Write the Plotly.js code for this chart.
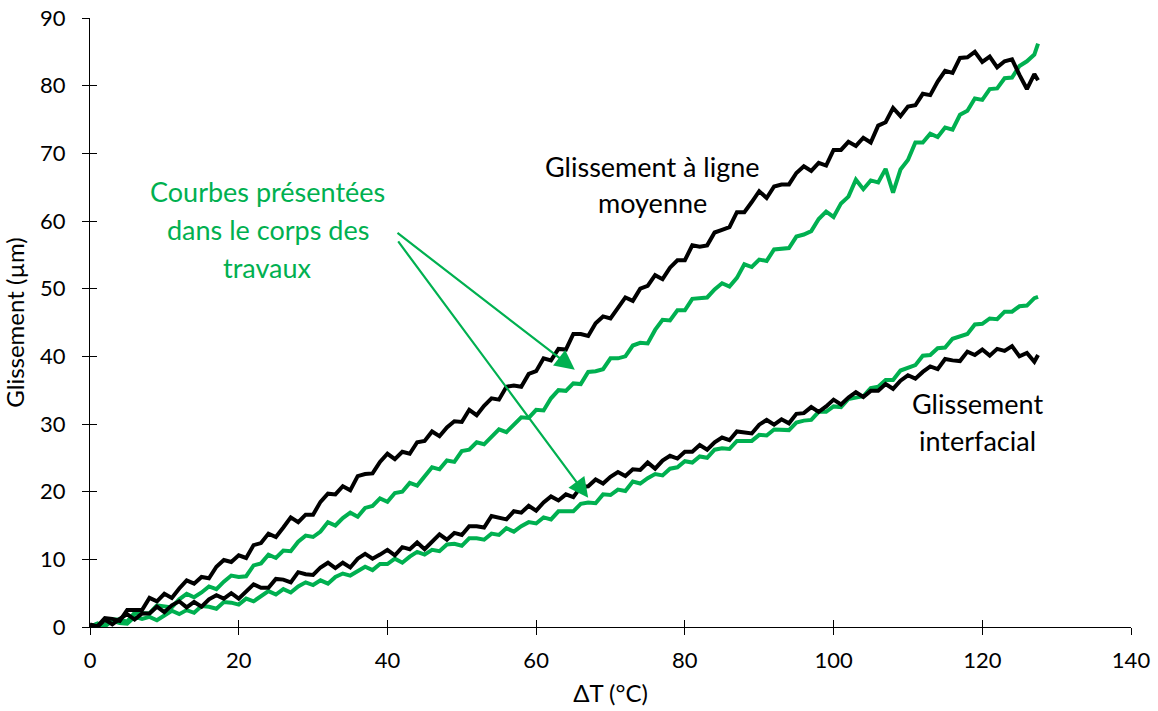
<!DOCTYPE html>
<html>
<head>
<meta charset="utf-8">
<script src="https://cdn.plot.ly/plotly-3.0.1.min.js"></script>
<style>html,body{margin:0;padding:0;background:#fff;}#chart{width:1158px;height:711px;}</style>
</head>
<body>
<div id="chart"></div>
<script>
// ΔT (°C) sample positions
const dT = [0,1,2,3,4,5,6,7,8,9,10,11,12,13,14,15,16,17,18,19,20,21,22,23,24,25,26,27,28,29,30,31,32,33,34,35,36,37,38,39,40,41,42,43,44,45,46,47,48,49,50,51,52,53,54,55,56,57,58,59,60,61,62,63,64,65,66,67,68,69,70,71,72,73,74,75,76,77,78,79,80,81,82,83,84,85,86,87,88,89,90,91,92,93,94,95,96,97,98,99,100,101,102,103,104,105,106,107,108,109,110,111,112,113,114,115,116,117,118,119,120,121,122,123,124,125,126,127,127.5];

// Glissement à ligne moyenne (black, upper)
const ligneMoyenneNoir = [0.3,0.1,1.3,1.2,0.9,2.5,2.5,2.5,4.3,3.8,
4.9,4.3,5.7,6.9,6.4,7.4,7.2,8.9,9.9,9.6,
10.6,10.2,12.1,12.4,13.8,13.3,14.7,16.2,15.5,16.6,
16.6,18.5,19.7,19.6,20.8,20.2,22.3,22.6,22.7,24.4,
25.6,24.8,25.9,25.6,27.3,27.5,28.9,28.2,29.5,30.4,
30.3,32.1,31.3,32.7,33.8,33.6,35.5,35.7,35.5,37.4,
37.8,39.7,39.4,41.1,41.0,43.3,43.3,43.0,44.9,45.9,
45.6,47.1,48.7,48.2,50.0,50.4,52.0,51.4,53.1,54.2,
54.2,56.4,56.2,56.4,58.3,58.7,59.1,61.3,61.3,62.8,
64.4,63.4,65.1,65.4,65.4,67.1,68.1,67.4,68.6,68.2,
70.5,70.5,71.7,71.1,72.3,71.6,74.1,74.6,76.7,75.5,
76.9,77.1,78.8,78.6,80.6,82.2,81.9,84.1,84.2,85.0,
83.5,84.3,82.7,83.6,83.9,81.6,79.5,81.7,80.8];

// Glissement à ligne moyenne (green, upper - curves shown in main text)
const ligneMoyenneVert = [0.0,0.5,0.3,1.1,1.1,0.8,2.1,2.1,2.0,3.2,
3.0,2.9,4.1,4.9,4.4,5.1,6.0,5.6,6.7,7.6,
7.4,7.5,9.1,9.4,10.7,10.2,11.3,11.2,12.6,13.5,
13.3,14.1,15.5,15.0,16.1,16.9,16.3,17.6,17.9,19.0,
18.5,19.8,20.0,21.3,20.9,22.2,23.6,23.3,24.6,24.4,
26.0,26.2,27.3,27.0,28.1,29.2,28.8,29.9,31.0,30.9,
32.1,32.0,33.8,35.0,34.9,36.0,35.9,37.7,37.8,38.1,
39.7,39.7,40.0,41.6,42.0,41.9,43.9,45.4,45.3,46.8,
46.8,48.5,48.6,48.7,49.9,50.8,50.3,51.6,53.6,53.2,
54.3,54.1,55.8,55.9,56.0,57.7,58.0,58.5,60.3,61.4,
60.6,62.6,63.6,66.1,64.7,66.0,65.7,67.7,64.2,67.6,
69.0,71.6,71.6,72.9,72.4,73.8,73.5,75.7,76.3,78.1,
77.9,79.5,79.6,81.1,81.2,82.9,83.6,84.6,86.2];

// Glissement interfacial (black, lower)
const interfacialNoir = [0.4,0.0,1.1,0.4,1.2,1.9,1.1,2.0,2.0,3.0,
2.2,3.2,3.8,2.9,3.7,3.0,4.1,4.7,4.2,5.0,
4.2,5.3,6.3,5.8,5.8,7.1,7.0,6.6,8.1,7.8,
7.7,8.8,9.5,8.7,9.5,8.8,10.1,10.8,10.1,10.7,
11.4,10.6,11.8,11.5,12.5,11.5,12.7,13.7,12.9,13.9,
13.6,14.9,14.9,14.7,16.4,16.2,15.9,17.1,16.9,17.9,
17.2,18.4,19.3,18.7,19.6,19.2,20.7,20.8,21.8,21.2,
22.2,22.9,22.3,23.3,23.2,24.3,23.4,24.6,25.3,24.9,
25.9,25.9,26.9,26.2,27.3,28.0,27.6,28.9,28.8,28.6,
29.9,30.6,29.9,30.7,30.1,31.5,31.6,32.5,31.8,32.6,
33.6,32.9,33.9,34.7,34.0,34.9,34.9,35.9,35.2,36.4,
37.2,36.7,37.7,38.5,38.1,39.6,39.4,39.3,40.7,40.2,
41.0,40.1,41.1,40.8,41.5,40.0,40.5,39.2,40.2];

// Glissement interfacial (green, lower - curves shown in main text)
const interfacialVert = [0.0,0.5,0.1,0.9,0.6,0.5,1.5,1.2,1.5,1.0,
1.7,2.4,1.9,2.5,2.1,3.1,3.0,2.7,3.7,3.6,
3.3,4.2,3.8,4.5,5.3,4.8,5.6,5.1,6.0,6.6,
6.2,6.9,6.4,7.4,7.9,7.6,8.2,8.9,8.4,9.3,
9.3,10.1,9.5,10.4,11.1,10.7,11.4,11.2,12.2,12.3,
12.0,13.1,13.1,12.9,13.8,13.6,14.6,14.1,14.9,15.5,
15.3,16.2,15.9,17.1,17.1,17.1,18.2,18.4,18.3,19.6,
19.5,20.3,20.1,21.5,21.2,22.0,22.6,22.4,23.4,23.6,
24.5,24.3,25.2,25.0,26.2,26.4,26.3,27.5,27.5,27.5,
28.4,28.3,29.2,29.1,29.1,30.2,30.5,30.6,31.8,31.8,
32.6,32.5,33.7,33.9,34.1,35.3,35.5,36.5,36.5,37.9,
38.3,38.7,40.1,40.2,41.2,41.3,42.6,43.0,43.3,44.7,
44.8,45.6,45.5,46.6,46.6,47.4,47.5,48.6,48.8];

const xTicks = [0,20,40,60,80,100,120,140];
const yTicks = [0,10,20,30,40,50,60,70,80,90];

const GREEN = '#00B050';
const BLACK = '#000000';
const FONT = 'Lato, "Open Sans", sans-serif';

function line(y, color, name){
  return {x: dT, y: y, type: 'scatter', mode: 'lines', name: name,
          line: {color: color, width: 4}, hoverinfo: 'skip'};
}

const traces = [
  line(ligneMoyenneVert, GREEN, 'ligne moyenne (corps)'),
  line(interfacialVert, GREEN, 'interfacial (corps)'),
  line(ligneMoyenneNoir, BLACK, 'ligne moyenne'),
  line(interfacialNoir, BLACK, 'interfacial'),
  {x: [], y: [], xaxis: 'x2', yaxis: 'y2', type: 'scatter', mode: 'lines', showlegend: false, hoverinfo: 'skip'}
];

function ann(text, x, y, color){
  return {text: text, x: x, y: y, xref: 'x', yref: 'y', showarrow: false,
          xanchor: 'center', yanchor: 'middle',
          font: {family: FONT, size: 27, color: color}};
}
function arrow(xh, yh, xt, yt){
  return {x: xh, y: yh, ax: xt, ay: yt, xref: 'x', yref: 'y', axref: 'x', ayref: 'y',
          text: '', showarrow: true, arrowhead: 2, arrowsize: 1.8, arrowwidth: 2.2,
          arrowcolor: GREEN, standoff: 0, startstandoff: 0};
}

const layout = {
  width: 1158, height: 711,
  margin: {l: 90, r: 27, t: 18, b: 84},
  paper_bgcolor: '#fff', plot_bgcolor: '#fff',
  showlegend: false,
  font: {family: FONT, color: BLACK},
  xaxis: {range: [0, 140], tickvals: xTicks, ticks: 'outside', ticklen: 7, tickcolor: BLACK,
          showline: true, linecolor: BLACK, linewidth: 1, showgrid: false, zeroline: false,
          ticklabelstandoff: 7,
          tickfont: {family: FONT, size: 22, color: BLACK},
          title: {text: 'ΔT (°C)', font: {family: FONT, size: 24, color: BLACK}, standoff: 12}},
  yaxis: {range: [0, 90], tickvals: yTicks, ticks: 'outside', ticklen: 7, tickcolor: BLACK,
          showline: true, linecolor: BLACK, linewidth: 1, showgrid: false, zeroline: false,
          ticklabelstandoff: 12,
          tickfont: {family: FONT, size: 22, color: BLACK},
          title: {text: 'Glissement (µm)', font: {family: FONT, size: 24, color: BLACK}, standoff: 10}},
  xaxis2: {range: [0, 140], tickvals: xTicks, ticks: 'inside', ticklen: 7, tickcolor: BLACK,
           overlaying: 'x', showticklabels: false, showline: false, showgrid: false, zeroline: false},
  yaxis2: {range: [0, 90], tickvals: yTicks, ticks: 'inside', ticklen: 7, tickcolor: BLACK,
           overlaying: 'y', showticklabels: false, showline: false, showgrid: false, zeroline: false},
  annotations: [
    ann('Courbes présentées', 23.9, 64.4, GREEN),
    ann('dans le corps des', 23.9, 58.7, GREEN),
    ann('travaux', 23.9, 53.2, GREEN),
    ann('Glissement à ligne', 75.6, 68.1, BLACK),
    ann('moyenne', 75.6, 62.7, BLACK),
    ann('Glissement', 119.3, 33.1, BLACK),
    ann('interfacial', 119.3, 27.6, BLACK),
    arrow(65.2, 38.0, 41.15, 58.4),
    arrow(67.0, 19.1, 41.3, 57.2)
  ]
};

Plotly.newPlot('chart', traces, layout, {displayModeBar: false, staticPlot: true});
</script>
</body>
</html>
